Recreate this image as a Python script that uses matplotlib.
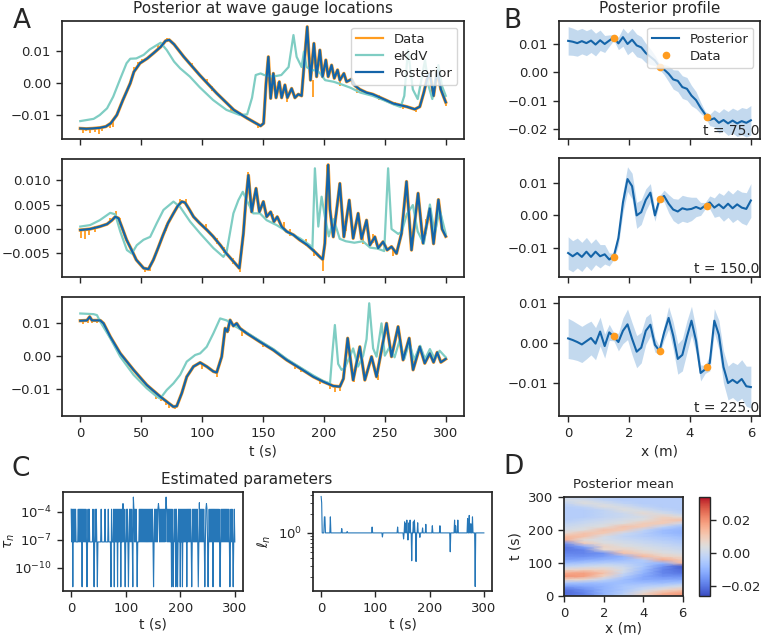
import numpy as np
import matplotlib
matplotlib.use('Agg')
import matplotlib.pyplot as plt

"""Data"""

# A: wave gauge time series, (t, value) knots
g1_post = [(0, -0.0142), (5, -0.0143), (10, -0.0142), (16, -0.0140), (21, -0.0136), (25, -0.0126),
           (30, -0.0100), (35, -0.0053), (41, -0.0001), (44, 0.0035), (49, 0.0062), (55, 0.0077),
           (60, 0.0093), (66, 0.0113), (70, 0.0132), (73, 0.0135), (77, 0.0121), (85, 0.0082),
           (98, 0.0025), (112, -0.0032), (126, -0.0084), (137, -0.0110), (148, -0.0134),
           (150.5, -0.0126), (152.5, -0.0001), (154.4, 0.0082), (156.3, -0.0048), (158.5, 0.0030),
           (160.7, -0.0046), (163.4, 0.0004), (165.3, -0.0046), (168, -0.0006), (170, -0.0046),
           (173.5, -0.0017), (176.2, -0.0046), (179, -0.0035), (181.7, -0.0040), (183.6, 0.0051),
           (186.3, 0.0176), (189, 0.0009), (191.8, 0.0124), (194, 0.0020), (196.7, 0.0103),
           (198.9, 0.0020), (201.6, 0.0072), (203.5, 0.0020), (206.3, 0.0056), (208.5, 0.0015),
           (211.2, 0.0041), (213.1, 0.0009), (216.4, 0.0030), (218.6, 0.0004), (222.7, 0.0012),
           (225.4, -0.0008), (229.5, -0.0020), (235, -0.0030), (240, -0.0035), (246, -0.0045),
           (257, -0.0064), (268, -0.0074), (274.6, -0.0082), (278.7, -0.0074), (282, -0.0030),
           (284.5, 0.0010), (287, 0.0030), (290, -0.0040), (293, 0.0040), (296, -0.0020), (300, -0.0060)]
g1_ekdv = [(0, -0.0119), (11, -0.0112), (16, -0.0100), (22, -0.0079), (27, -0.0043), (33, 0.0015),
           (38, 0.0062), (41, 0.0076), (46, 0.0077), (52, 0.0088), (57, 0.0105), (63, 0.0119),
           (66, 0.0126), (71, 0.0103), (77, 0.0067), (82, 0.0046), (90, 0.0020), (98, -0.0013),
           (109, -0.0053), (120, -0.0084), (131, -0.0100), (137, -0.0098), (141, -0.0046),
           (144, 0.0025), (148, 0.0030), (151, 0.0025), (158, 0.0020), (165, 0.0025), (171, 0.0050),
           (175, 0.0150), (177.6, 0.0082), (181.7, 0.0050), (183.6, 0.0098), (185.8, 0.0050),
           (190, 0.0040), (194, 0.0040), (197, 0.0030), (201, 0.0009), (208, 0.0004), (215, -0.0005),
           (222, -0.0015), (230, -0.0030), (240, -0.0040), (250, -0.0055), (258, -0.0068),
           (263, -0.0075), (266, -0.0040), (269, 0.0103), (273, -0.0020), (277, -0.0050),
           (280, 0.0010), (283, 0.0072), (286, -0.0010), (289, -0.0050), (291, 0.0000),
           (294, 0.0056), (297, -0.0010), (300, -0.0040)]
g1_spikes = [(2, -0.0155, -0.0142), (5, -0.0150, -0.0143), (8, -0.0156, -0.0142), (12, -0.0152, -0.0142),
             (15, -0.0158, -0.0141), (18, -0.0150, -0.0139), (24, -0.0140, -0.0128), (27, -0.0138, -0.0118),
             (44, 0.0035, 0.0050), (47, 0.0050, 0.0066), (51, 0.0062, 0.0076), (64, 0.0108, 0.0122),
             (71, 0.0132, 0.0142), (92, 0.0050, 0.0062), (104, 0.0000, 0.0012), (108, -0.0025, -0.0010),
             (124, -0.0088, -0.0075), (131, -0.0102, -0.0092), (146, -0.0140, -0.0128),
             (162, -0.0012, 0.0004), (166, -0.0048, -0.0035), (170, -0.0060, -0.0046),
             (191, -0.0045, 0.0010), (213, -0.0008, 0.0009), (227, -0.0030, -0.0015),
             (238, -0.0042, -0.0030), (245, -0.0052, -0.0038), (258, -0.0070, -0.0058),
             (265, -0.0080, -0.0070), (276, -0.0090, -0.0080), (300, -0.0072, -0.0060)]

g2_post = [(0, -0.0002), (8, 0.0000), (16, 0.0005), (22, 0.0010), (26, 0.0018), (28.7, 0.0025),
           (31.4, 0.0022), (34, 0.0005), (38, -0.0022), (42, -0.0042), (46, -0.0063), (52, -0.0080),
           (56, -0.0082), (60, -0.0063), (64, -0.0038), (68, -0.0012), (72, 0.0012), (76.5, 0.0032),
           (80, 0.0047), (83.3, 0.0056), (86, 0.0054), (89, 0.0042), (93, 0.0025), (98, 0.0012),
           (104, -0.0002), (109, -0.0015), (115, -0.0033), (120, -0.0050), (126, -0.0067),
           (130.6, -0.0080), (133.9, -0.0009), (136, 0.0060), (138, 0.0110), (140.7, 0.0035),
           (142.5, 0.0060), (144.3, 0.0083), (147, 0.0035), (150.3, 0.0056), (153, 0.0025),
           (156.3, 0.0035), (159, 0.0015), (161.7, 0.0025), (165.3, 0.0005), (169.4, -0.0005),
           (175, -0.0012), (180, -0.0022), (186, -0.0032), (191, -0.0043), (196.7, -0.0057),
           (199, -0.0062), (200.8, -0.0029), (202, 0.0060), (203.5, 0.0131), (205, 0.0040),
           (207.7, -0.0016), (210.5, 0.0040), (213.1, 0.0093), (216.4, -0.0016), (220.8, 0.0059),
           (224, -0.0019), (228.1, 0.0032), (230.9, -0.0020), (235, 0.0018), (237.7, -0.0033),
           (241.8, -0.0016), (244.5, -0.0039), (248.6, -0.0026), (251.9, -0.0043), (255.5, -0.0036),
           (259.6, -0.0050), (263.7, -0.0009), (267.8, 0.0097), (271.9, -0.0043), (277.3, 0.0073),
           (281.4, -0.0029), (286.9, 0.0042), (290, -0.0030), (294, 0.0060), (297, 0.0000), (300, -0.0015)]
g2_ekdv = [(0, 0.0005), (8, 0.0008), (16, 0.0018), (24.6, 0.0033), (28.7, 0.0030), (32.8, -0.0005),
           (38.3, -0.0043), (42.3, -0.0050), (46.4, -0.0033), (51.9, -0.0022), (57.4, -0.0016),
           (62.8, 0.0012), (68.3, 0.0039), (76.5, 0.0056), (82, 0.0045), (90.2, 0.0015), (98.4, -0.0009),
           (109.3, -0.0039), (117.5, -0.0057), (120.2, -0.0046), (125.7, 0.0032), (129.8, 0.0059),
           (133.4, 0.0076), (136.6, 0.0059), (142, 0.0032), (147.5, 0.0032), (153, 0.0018),
           (161.2, 0.0008), (172.1, -0.0009), (180.3, -0.0019), (188.5, -0.0033), (190.5, -0.0043),
           (192.6, 0.0124), (195.4, 0.0005), (198.1, 0.0066), (200.8, 0.0025), (204, -0.0015),
           (208, 0.0020), (213, -0.0020), (218, -0.0025), (225, -0.0028), (232, -0.0025),
           (238, -0.0038), (244, -0.0040), (249.5, -0.0045), (252.7, 0.0124), (255.5, 0.0000),
           (261, -0.0010), (264, -0.0005), (268, 0.0030), (273, 0.0049), (277, -0.0005),
           (282, -0.0030), (287, 0.0050), (291, -0.0010), (295, 0.0040), (300, -0.0010)]
g2_spikes = [(1, -0.0018, 0.0000), (4, -0.0020, -0.0001), (7, -0.0012, 0.0001), (12, -0.0006, 0.0006),
             (24, 0.0012, 0.0022), (29, 0.0025, 0.0036), (33, 0.0010, 0.0022), (53, -0.0088, -0.0078),
             (57, -0.0086, -0.0078), (70, -0.0004, 0.0008), (82, 0.0050, 0.0062), (87, 0.0050, 0.0061),
             (103, -0.0002, 0.0010), (112, -0.0030, -0.0018), (118, -0.0048, -0.0036),
             (125, -0.0072, -0.0060), (131, -0.0088, -0.0078), (138, 0.0105, 0.0116),
             (158, 0.0015, 0.0030), (167, -0.0003, 0.0015), (172, -0.0015, 0.0000),
             (185, -0.0035, -0.0020), (192, -0.0055, -0.0040), (199.5, -0.0085, -0.0060),
             (218, -0.0005, 0.0012), (232, -0.0030, -0.0015), (240, -0.0028, -0.0010),
             (257, -0.0055, -0.0040), (284, -0.0010, 0.0020)]

g3_post = [(0, 0.0106), (5.5, 0.0107), (7.7, 0.0118), (9.6, 0.0107), (16.4, 0.0107), (19.1, 0.0098),
           (24.6, 0.0058), (32.8, 0.0007), (43.7, -0.0043), (54.6, -0.0089), (65.6, -0.0124),
           (72.5, -0.0144), (76.5, -0.0155), (79.2, -0.0153), (83.3, -0.0114), (87.4, -0.0064),
           (92.9, -0.0033), (98.4, -0.0021), (103.8, -0.0033), (109.3, -0.0048), (112, -0.0051),
           (116.1, -0.0003), (118.9, 0.0083), (120.8, 0.0073), (123, 0.0108), (125.7, 0.0090),
           (128.4, 0.0098), (131.1, 0.0083), (136.6, 0.0068), (147.5, 0.0042), (158.5, 0.0017),
           (169.4, -0.0013), (180.3, -0.0038), (191.3, -0.0064), (199.5, -0.0079), (207.7, -0.0092),
           (213.1, -0.0094), (216, -0.0070), (219.5, 0.0053), (224, -0.0074), (229.5, 0.0027),
           (233.6, -0.0074), (239.1, -0.0003), (243.2, -0.0064), (251.4, 0.0098), (255.5, -0.0003),
           (260.9, 0.0088), (265, -0.0013), (270, 0.0053), (273.2, -0.0043), (278.7, 0.0027),
           (282.8, -0.0023), (286.9, 0.0007), (290, -0.0020), (293, 0.0010), (296, -0.0020), (300, -0.0010)]
g3_ekdv = [(0, 0.0128), (10.9, 0.0126), (13.7, 0.0123), (16.4, 0.0103), (24.6, 0.0053), (32.8, -0.0003),
           (43.7, -0.0058), (54.6, -0.0099), (62.8, -0.0124), (65.6, -0.0130), (71, -0.0104),
           (76.5, -0.0084), (82, -0.0058), (87.4, -0.0018), (94.3, 0.0002), (98.4, 0.0007),
           (103.8, 0.0027), (109.3, 0.0068), (114.8, 0.0113), (120.2, 0.0107), (125.7, 0.0092),
           (136.6, 0.0070), (147.5, 0.0045), (158.5, 0.0020), (169.4, -0.0010), (180.3, -0.0035),
           (191.3, -0.0060), (199.5, -0.0077), (205, -0.0084), (207, 0.0010), (209, 0.0093),
           (211.7, -0.0025), (214.5, -0.0043), (217, -0.0038), (221.3, -0.0003), (224, 0.0022),
           (228, -0.0033), (232.2, 0.0000), (235, 0.0050), (237.2, 0.0159), (240.4, 0.0022),
           (243.2, -0.0003), (247.3, 0.0098), (250, 0.0000), (254, 0.0027), (258, -0.0005),
           (262, 0.0045), (266, -0.0010), (270, 0.0040), (274, -0.0012), (279, 0.0030),
           (283, -0.0010), (287, 0.0020), (291, -0.0010), (295, 0.0015), (300, -0.0005)]
g3_spikes = [(2, 0.0095, 0.0108), (6, 0.0098, 0.0112), (10, 0.0100, 0.0108), (14, 0.0098, 0.0110),
             (62, -0.0130, -0.0114), (66, -0.0138, -0.0124), (70, -0.0150, -0.0138), (73, -0.0160, -0.0144),
             (78, -0.0162, -0.0150), (100, -0.0040, -0.0022), (112, -0.0065, -0.0050),
             (119, 0.0070, 0.0085), (122, 0.0075, 0.0100), (133, 0.0060, 0.0080), (150, 0.0025, 0.0040),
             (176, -0.0040, -0.0025), (181, -0.0050, -0.0035), (197, -0.0085, -0.0072),
             (205, -0.0100, -0.0086), (209, -0.0110, -0.0090), (213, -0.0108, -0.0092),
             (225, -0.0080, -0.0065), (244, -0.0074, -0.0060)]

# B: posterior profiles on x = 0, 0.15, ..., 6.0
b_prof_75 = [0.0111, 0.0108, 0.0103, 0.0110, 0.0103, 0.0112, 0.0098, 0.0113, 0.0100, 0.0112, 0.0123,
             0.0102, 0.0124, 0.0100, 0.0115, 0.0095, 0.0088, 0.0068, 0.0055, 0.0042, 0.0020, 0.0010,
             -0.0005, -0.0025, -0.0030, -0.0052, -0.0058, -0.0082, -0.0098, -0.0125, -0.0148, -0.0168,
             -0.0162, -0.0178, -0.0168, -0.0180, -0.0170, -0.0180, -0.0172, -0.0178, -0.0169]
b_prof_150 = [-0.0116, -0.0126, -0.0116, -0.0128, -0.0112, -0.0128, -0.0112, -0.0126, -0.0120, -0.0136,
              -0.0126, -0.0070, 0.0040, 0.0112, 0.0090, 0.0000, 0.0010, 0.0048, 0.0070, 0.0000, 0.0050,
              0.0060, 0.0036, 0.0018, 0.0012, 0.0022, 0.0018, 0.0020, 0.0026, 0.0020, 0.0030, 0.0040,
              0.0024, 0.0034, 0.0022, 0.0036, 0.0022, 0.0034, 0.0024, 0.0020, 0.0046]
b_prof_225 = [0.0011, 0.0007, 0.0002, -0.0004, 0.0004, 0.0012, -0.0002, 0.0028, -0.0008, 0.0026, 0.0015,
              0.0002, 0.0030, 0.0046, 0.0010, -0.0022, -0.0012, 0.0030, 0.0045, -0.0005, -0.0020,
              0.0025, 0.0062, 0.0018, -0.0040, -0.0030, 0.0015, 0.0055, 0.0005, -0.0075, -0.0066,
              -0.0050, 0.0055, 0.0020, -0.0060, -0.0100, -0.0092, -0.0100, -0.0090, -0.0108, -0.0110]
b_band = [0.0050, 0.0048, 0.0046, 0.0045, 0.0044, 0.0042, 0.0040, 0.0036, 0.0030, 0.0020, 0.0010,
          0.0022, 0.0032, 0.0038, 0.0040, 0.0040, 0.0038, 0.0034, 0.0028, 0.0018, 0.0010, 0.0018,
          0.0028, 0.0034, 0.0038, 0.0040, 0.0040, 0.0036, 0.0030, 0.0020, 0.0010, 0.0020, 0.0030,
          0.0036, 0.0040, 0.0042, 0.0044, 0.0046, 0.0048, 0.0050, 0.0052]
gauge_x = [1.5, 3.0, 4.55]
b_data = [[0.0122, 0.0018, -0.0156], [-0.0129, 0.0051, 0.0028], [0.0017, -0.0020, -0.0061]]
b_times = ['75.0', '150.0', '225.0']

# C: estimated parameters, one value per second
tau_mid = 6e-8
tau_high = 2e-4
tau_low = 9e-13
tau_dense = [(0, 9), (13, 33), (40, 48), (78, 92), (97, 121), (125, 299)]
tau_extra = [55, 62, 68, 74]
tau_peak_t = [95, 114, 160, 174, 235, 248]
tau_peak_v = [8e-4, 4e-3, 8e-4, 4e-3, 1e-3, 8e-4]
tau_low_t = [3, 20, 29, 42, 48, 73, 79, 85, 91, 99, 105, 113, 121, 151, 184, 187, 192, 195, 200,
             204, 212, 221, 233, 245, 251, 260, 273, 291, 297]
ell_spike_t = [0, 1, 6, 7, 17, 38, 48, 94, 113, 141, 152, 154, 156, 158, 160, 162, 164, 167, 170,
               172, 175, 178, 182, 187, 193, 205, 219, 238, 246, 248, 252, 270, 273, 276, 279, 284]
ell_spike_v = [3.8, 3.0, 1.8, 1.8, 1.8, 1.17, 1.05, 1.24, 0.86, 1.24, 0.8, 1.5, 1.4, 1.6, 0.77,
               1.45, 1.6, 0.36, 1.5, 1.6, 0.35, 1.45, 0.85, 1.2, 1.37, 1.3, 1.3, 0.5, 1.6, 1.3,
               1.6, 1.7, 1.9, 1.4, 1.8, 0.14]

# D: posterior mean on x = 0..6 (m), t = 0..300 (s) every 10 s
d_x = [0, 1, 2, 3, 4, 5, 6]
d_t = list(range(0, 301, 10))
d_mean = [
    [-0.020, -0.018, -0.010, -0.002, 0.010, 0.018, 0.020],
    [-0.022, -0.018, -0.010, -0.004, 0.006, 0.014, 0.018],
    [-0.020, -0.016, -0.010, -0.006, 0.000, 0.006, 0.010],
    [-0.014, -0.012, -0.010, -0.006, -0.004, -0.002, 0.002],
    [-0.006, -0.008, -0.008, -0.008, -0.008, -0.008, -0.006],
    [0.008, 0.006, -0.002, -0.008, -0.012, -0.012, -0.012],
    [0.020, 0.018, 0.008, -0.004, -0.012, -0.016, -0.016],
    [0.016, 0.018, 0.012, 0.000, -0.010, -0.018, -0.020],
    [0.006, 0.008, 0.008, 0.002, -0.008, -0.018, -0.022],
    [-0.002, 0.000, 0.002, 0.000, -0.006, -0.016, -0.024],
    [-0.008, -0.006, -0.004, -0.004, -0.006, -0.010, 0.014],
    [-0.014, -0.012, -0.010, -0.008, -0.004, 0.016, 0.010],
    [-0.016, -0.016, -0.014, -0.010, 0.014, 0.008, 0.006],
    [-0.018, -0.018, -0.016, 0.012, 0.008, 0.004, 0.002],
    [-0.020, -0.018, 0.006, 0.008, 0.004, 0.002, 0.000],
    [-0.020, -0.012, 0.008, 0.004, 0.002, 0.000, -0.002],
    [-0.016, 0.010, 0.004, 0.002, 0.000, -0.002, -0.004],
    [0.016, 0.004, 0.002, 0.000, -0.002, -0.004, -0.006],
    [0.014, 0.012, 0.002, -0.002, -0.004, -0.006, -0.008],
    [0.006, 0.012, 0.010, 0.000, -0.004, -0.008, -0.010],
    [0.002, 0.004, 0.012, 0.010, -0.002, -0.008, -0.010],
    [0.000, 0.002, 0.004, 0.012, 0.010, -0.002, -0.008],
    [-0.002, 0.000, 0.002, 0.004, 0.010, 0.010, 0.000],
    [-0.004, -0.002, 0.000, 0.002, 0.004, 0.010, 0.012],
    [-0.004, -0.004, -0.002, 0.000, 0.002, 0.008, 0.004],
    [-0.004, -0.004, -0.002, 0.000, 0.006, 0.002, -0.002],
    [-0.004, -0.004, -0.002, 0.004, 0.002, -0.002, -0.004],
    [-0.004, -0.002, 0.004, 0.002, -0.002, -0.004, -0.004],
    [-0.002, 0.004, 0.002, -0.002, -0.004, -0.004, -0.004],
    [0.002, 0.002, -0.002, -0.004, -0.004, -0.004, -0.004],
    [0.000, -0.002, -0.004, -0.004, -0.004, -0.004, -0.004],
]

"""Style"""
C_DATA = '#ff9c1f'
C_EKDV = '#7fcdc3'
C_POST = '#1464a8'
C_LINE = '#2677b8'
DARK = '#262626'

plt.rcParams.update({
    'font.family': 'DejaVu Sans',
    'axes.edgecolor': DARK, 'axes.linewidth': 1.25,
    'axes.labelcolor': DARK, 'text.color': DARK,
    'xtick.color': DARK, 'ytick.color': DARK,
    'xtick.major.size': 4.5, 'ytick.major.size': 4.5,
    'xtick.major.width': 1.0, 'ytick.major.width': 1.0,
    'xtick.minor.size': 2.5, 'ytick.minor.size': 2.5,
    'xtick.labelsize': 9.5, 'ytick.labelsize': 9.5,
    'axes.labelsize': 10, 'axes.titlesize': 11,
    'legend.fontsize': 9.5,
    'lines.solid_joinstyle': 'round',
})

W, H = 761, 637
fig = plt.figure(figsize=(W / 100, H / 100), dpi=100)


def rect(l, t, r, b):
    return [l / W, 1 - b / H, (r - l) / W, (b - t) / H]


"""A"""
axA = [fig.add_axes(rect(62, 21, 464, 139)),
       fig.add_axes(rect(62, 159, 464, 277)),
       fig.add_axes(rect(62, 297, 464, 416))]
a_series = [(g1_post, g1_ekdv, g1_spikes), (g2_post, g2_ekdv, g2_spikes), (g3_post, g3_ekdv, g3_spikes)]
a_ylims = [(-0.0175, 0.0194), (-0.0098, 0.0143), (-0.0183, 0.0178)]
a_yticks = [[-0.01, 0.0, 0.01], [-0.005, 0.0, 0.005, 0.010], [-0.01, 0.0, 0.01]]
for i, ax in enumerate(axA):
    post, ekdv, spikes = a_series[i]
    pt, pv = np.array(post).T
    et, ev = np.array(ekdv).T
    st, slo, shi = np.array(spikes).T
    ax.plot(pt, pv, color=C_DATA, lw=2.4, label='Data')
    ax.vlines(st, slo, shi, color=C_DATA, lw=1.3)
    ax.plot(et, ev, color=C_EKDV, lw=1.6, label='eKdV')
    ax.plot(pt, pv, color=C_POST, lw=1.6, label='Posterior')
    ax.set_xlim(-15, 315)
    ax.set_ylim(*a_ylims[i])
    ax.set_yticks(a_yticks[i])
    ax.set_xticks(range(0, 301, 50))
    if i < 2:
        ax.set_xticklabels([])
axA[0].set_title('Posterior at wave gauge locations')
leg = axA[0].legend(loc='upper right', handlelength=2.0, borderpad=0.4, labelspacing=0.3)
for line in leg.get_lines():
    line.set_linewidth(1.6)
axA[2].set_xlabel('t (s)', labelpad=3)

"""B"""
bx = np.linspace(0, 6, 41)
band = np.array(b_band)
axB = [fig.add_axes(rect(559, 21, 760, 139)),
       fig.add_axes(rect(559, 158, 760, 277)),
       fig.add_axes(rect(559, 297, 760, 416))]
b_profiles = [b_prof_75, b_prof_150, b_prof_225]
b_ylims = [(-0.0235, 0.0181), (-0.019, 0.0177), (-0.0182, 0.0114)]
b_yticks = [[-0.02, -0.01, 0.0, 0.01], [-0.01, 0.0, 0.01], [-0.01, 0.0, 0.01]]
for i, ax in enumerate(axB):
    prof = np.array(b_profiles[i])
    ax.fill_between(bx, prof - band, prof + band, color='#9cc1e4', alpha=0.6, lw=0)
    ax.plot(bx, prof, color=C_POST, lw=1.5, label='Posterior')
    ax.plot(gauge_x, b_data[i], 'o', color=C_DATA, ms=4.5, label='Data')
    ax.set_xlim(-0.3, 6.3)
    ax.set_ylim(*b_ylims[i])
    ax.set_yticks(b_yticks[i])
    ax.set_xticks([0, 2, 4, 6])
    if i < 2:
        ax.set_xticklabels([])
    ax.text(0.998, 0.01, 't = ' + b_times[i], transform=ax.transAxes,
            ha='right', va='bottom', fontsize=10)
axB[0].set_title('Posterior profile')
axB[0].legend(loc='upper right', borderpad=0.4, labelspacing=0.3)
axB[2].set_xlabel('x (m)', labelpad=3)

"""C"""
tau_tt = np.arange(0, 301)
tau = np.full(301, tau_mid)
for a, b in tau_dense:
    tau[a:b + 1:2] = tau_high
tau[tau_extra] = tau_high
tau[tau_peak_t] = tau_peak_v
tau[tau_low_t] = tau_low

ell = np.ones(301)
ell[ell_spike_t] = ell_spike_v

axC1 = fig.add_axes(rect(63, 492, 243, 591))
axC1.plot(tau_tt, tau, color=C_LINE, lw=0.8)
axC1.set_yscale('log')
axC1.set_ylim(10 ** -12.5, 10 ** -1.85)
axC1.set_yticks([1e-10, 1e-7, 1e-4])
axC1.yaxis.set_minor_locator(matplotlib.ticker.NullLocator())
axC1.set_xlim(-15, 315)
axC1.set_xticks([0, 100, 200, 300])
axC1.set_xlabel('t (s)', labelpad=2)
axC1.set_ylabel(r'$\tau_n$')
axC1.yaxis.set_label_coords(-0.255, 0.5)

axC2 = fig.add_axes(rect(313, 492, 492, 591))
axC2.plot(tau_tt, ell, color=C_LINE, lw=0.8)
axC2.set_yscale('log')
axC2.set_xlim(-15, 315)
axC2.set_xticks([0, 100, 200, 300])
axC2.set_xlabel('t (s)', labelpad=2)
axC2.set_ylabel(r'$\ell_n$')
axC2.yaxis.set_label_coords(-0.225, 0.5)

fig.text(247 / W, 1 - 484 / H, 'Estimated parameters', ha='center', va='baseline', fontsize=11)

"""D"""
axD = fig.add_axes(rect(564.3, 496.7, 682.7, 596))
mesh = axD.pcolormesh(d_x, d_t, np.array(d_mean), shading='gouraud', cmap='coolwarm',
                      vmin=-0.026, vmax=0.034)
axD.set_xlim(0, 6)
axD.set_ylim(0, 300)
axD.set_xticks([0, 2, 4, 6])
axD.set_yticks([0, 100, 200, 300])
axD.set_xlabel('x (m)', labelpad=1)
axD.set_ylabel('t (s)')
axD.set_title('Posterior mean', fontsize=9.5)
cax = fig.add_axes(rect(699.3, 496.7, 710, 596))
cb = fig.colorbar(mesh, cax=cax, ticks=[-0.02, 0.0, 0.02])
cb.outline.set_linewidth(1.0)

"""Panel letters"""
for letter, x, y in [('A', 13, 28), ('B', 503, 28), ('C', 12, 476), ('D', 503, 474)]:
    fig.text(x / W, 1 - y / H, letter, fontsize=19, ha='left', va='baseline')

fig.savefig('out.png', dpi=100)
